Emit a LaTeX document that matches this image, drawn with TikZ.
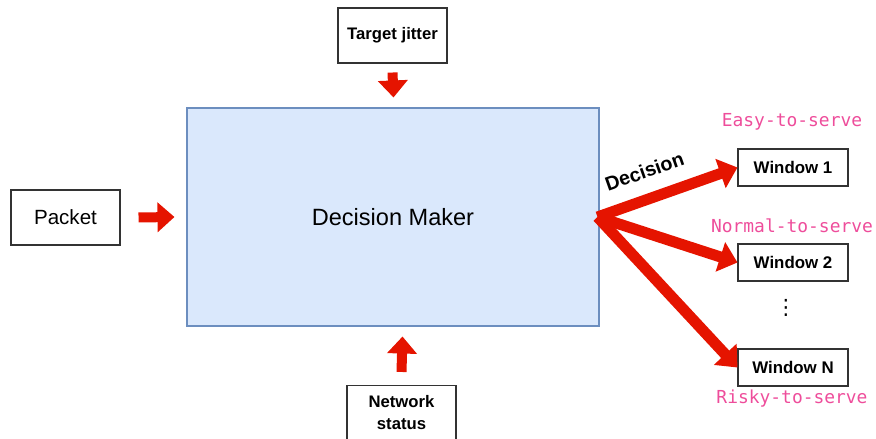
\documentclass[tikz,border=0pt]{standalone}
\usepackage{fontspec}
\setmainfont{Liberation Sans}
\newfontfamily\pinkmono{DejaVu Sans Mono}
\newfontfamily\dejavu{DejaVu Sans}
\usetikzlibrary{arrows.meta}
\definecolor{arrowred}{HTML}{E51400}
\definecolor{dmfill}{HTML}{DAE8FC}
\definecolor{dmdraw}{HTML}{6C8EBF}
\definecolor{labelpink}{HTML}{EE4D9B}
\tikzset{
  inbox/.style={draw=black!80,line width=0.6pt,minimum width=2.18cm,minimum height=1.1cm,align=center,inner sep=1pt},
  winbox/.style={draw=black!80,line width=0.6pt,minimum width=2.2cm,minimum height=0.74cm,font=\fontsize{9.6}{11}\selectfont\bfseries},
  blockarrow/.style={arrowred,line width=0.2cm,-{Triangle[length=0.34cm,width=0.58cm]}},
  decarrow/.style={arrowred,line width=0.22cm,-{Triangle[length=0.36cm,width=0.6cm]}},
  servelabel/.style={text=labelpink,font=\pinkmono\fontsize{10.2}{12}\selectfont}
}
\begin{document}
\begin{tikzpicture}
   \useasboundingbox (0,0) rectangle (17.52,8.78);
   \node[inbox,font=\fontsize{11.7}{13}\selectfont] (packet) at (1.31,4.43) {Packet};
   \node[draw=dmdraw,fill=dmfill,line width=0.6pt,minimum width=8.24cm,minimum height=4.36cm,font=\fontsize{13.4}{15}\selectfont] (dm) at (7.86,4.44) {Decision Maker};
   \node[inbox,font=\fontsize{9.5}{11}\selectfont\bfseries] (jitter) at (7.85,8.07) {Target jitter};
   \node[inbox,font=\fontsize{9.5}{12.5}\selectfont\bfseries] (netstat) at (8.03,0.52) {Network\\status};

   \node[winbox] (win1) at (15.86,5.43) {Window 1};
   \node[winbox] (win2) at (15.86,3.53) {Window 2};
   \node[winbox] (winN) at (15.86,1.43) {Window N};
   \node[font=\dejavu\fontsize{12}{12}\selectfont] (dots) at (15.72,2.62) {⋮};

   \node[servelabel] (easy) at (15.84,6.34) {Easy-to-serve};
   \node[servelabel] (normal) at (15.84,4.26) {Normal-to-serve};
   \node[servelabel] (risky) at (15.84,0.80) {Risky-to-serve};

   \draw[blockarrow] ([xshift=0.36cm]packet.east) -- ([xshift=-0.24cm]dm.west);
   \draw[blockarrow] ([yshift=-0.18cm]jitter.south) -- ([xshift=0.01cm,yshift=0.2cm]dm.north);
   \draw[blockarrow] ([yshift=0.26cm]netstat.north) -- ([xshift=0.19cm,yshift=-0.2cm]dm.south);

   \draw[decarrow] ([xshift=-0.04cm]dm.east) -- (win1.west) node [black,sloped,pos=0.4,above=5pt,font=\fontsize{11.2}{12}\selectfont\bfseries] {Decision};
   \draw[decarrow] ([xshift=-0.04cm]dm.east) -- (win2.west);
   \draw[decarrow] ([xshift=-0.04cm]dm.east) -- (winN.west);
\end{tikzpicture}
\end{document}
